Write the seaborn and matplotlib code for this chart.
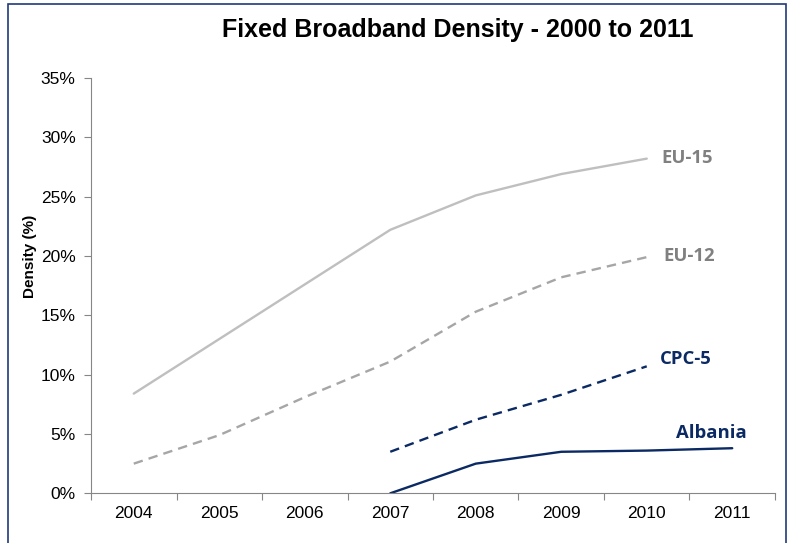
import numpy as np
import pandas as pd
import seaborn as sns
import matplotlib.pyplot as plt
from matplotlib.patches import Rectangle
from matplotlib.ticker import FixedLocator

years = [2004, 2005, 2006, 2007, 2008, 2009, 2010, 2011]
eu15 = [8.4, None, None, 22.2, 25.1, 26.9, 28.2, None]
eu12 = [2.5, 4.9, 8.1, 11.1, 15.3, 18.2, 19.9, None]
cpc5 = [None, None, None, 3.5, 6.2, 8.3, 10.7, None]
albania = [None, None, None, 0.0, 2.5, 3.5, 3.6, 3.8]

series = {"EU-15": eu15, "EU-12": eu12, "CPC-5": cpc5, "Albania": albania}
styles = {
    "EU-15": ("#BFBFBF", "solid"),
    "EU-12": ("#A6A6A6", "dashed"),
    "CPC-5": ("#0B2A63", "dashed"),
    "Albania": ("#0B2A63", "solid"),
}
# end-of-line labels: (x, y, colour)
labels = {
    "EU-15": (2010.17, 28.25, '#808080'),
    "EU-12": (2010.2, 20.0, '#808080'),
    "CPC-5": (2010.15, 11.35, '#0B2A63'),
    "Albania": (2010.34, 5.05, '#0B2A63'),
}

rows = []
for name, vals in series.items():
    for y, v in zip(years, vals):
        if v is not None:
            rows.append({"year": y, "density": v, "series": name})
df = pd.DataFrame(rows)

sns.set_style("ticks")
plt.rcParams['font.family'] = ['Liberation Sans', 'DejaVu Sans']
plt.rcParams['text.color'] = 'black'
plt.rcParams['xtick.labelcolor'] = 'black'
plt.rcParams['ytick.labelcolor'] = 'black'

fig = plt.figure(figsize=(7.9, 5.43), dpi=100)
ax = fig.add_axes([0.1152, 0.0915, 0.8658, 0.765])

for name in series:
    col, ls = styles[name]
    d = df[df.series == name]
    kw = dict(dashes=(4, 2.6)) if ls == "dashed" else {}
    sns.lineplot(data=d, x="year", y="density", ax=ax, color=col, lw=1.7,
                 estimator=None, sort=True, **kw)

ax.set_xlim(2003.5, 2011.5)
ax.set_ylim(0, 35)
ax.xaxis.set_major_locator(FixedLocator(np.arange(2003.5, 2012, 1)))
ax.xaxis.set_minor_locator(FixedLocator(years))
ax.set_xticklabels([])
ax.set_xticklabels([str(y) for y in years], minor=True)
ax.tick_params(axis='x', which='minor', length=0, pad=9, labelsize=12.5)
ax.tick_params(axis='x', which='major', length=5, color='#868686')
ax.set_yticks(range(0, 36, 5))
ax.set_yticklabels([f"{v}%" for v in range(0, 36, 5)])
ax.tick_params(axis='y', length=5, color='#868686', labelsize=12.5, pad=6)
for s in ['left', 'bottom']:
    ax.spines[s].set_color('#868686')
sns.despine(ax=ax)
ax.set_xlabel("")
ax.set_ylabel("")
fig.text(30.5 / 790, 1 - 256.5 / 543, "Density (%)", rotation=90, ha='center',
         va='center', fontsize=11, fontweight='bold')

for name, (lx, ly, lc) in labels.items():
    ax.text(lx, ly, name, color=lc, fontsize=13.3, fontweight='bold',
            va='center', family=['Open Sans', 'DejaVu Sans'])

fig.text(458 / 790, 1 - 30 / 543, "Fixed Broadband Density - 2000 to 2011",
         ha='center', va='center', fontsize=18, fontweight='bold')

fig.patches.append(Rectangle((7.5 / 790, -0.05), 778 / 790, 1 - 4 / 543 + 0.05,
                             transform=fig.transFigure, fill=False,
                             edgecolor='#1F3A7A', lw=1.2))

fig.savefig("out.png", dpi=100)
